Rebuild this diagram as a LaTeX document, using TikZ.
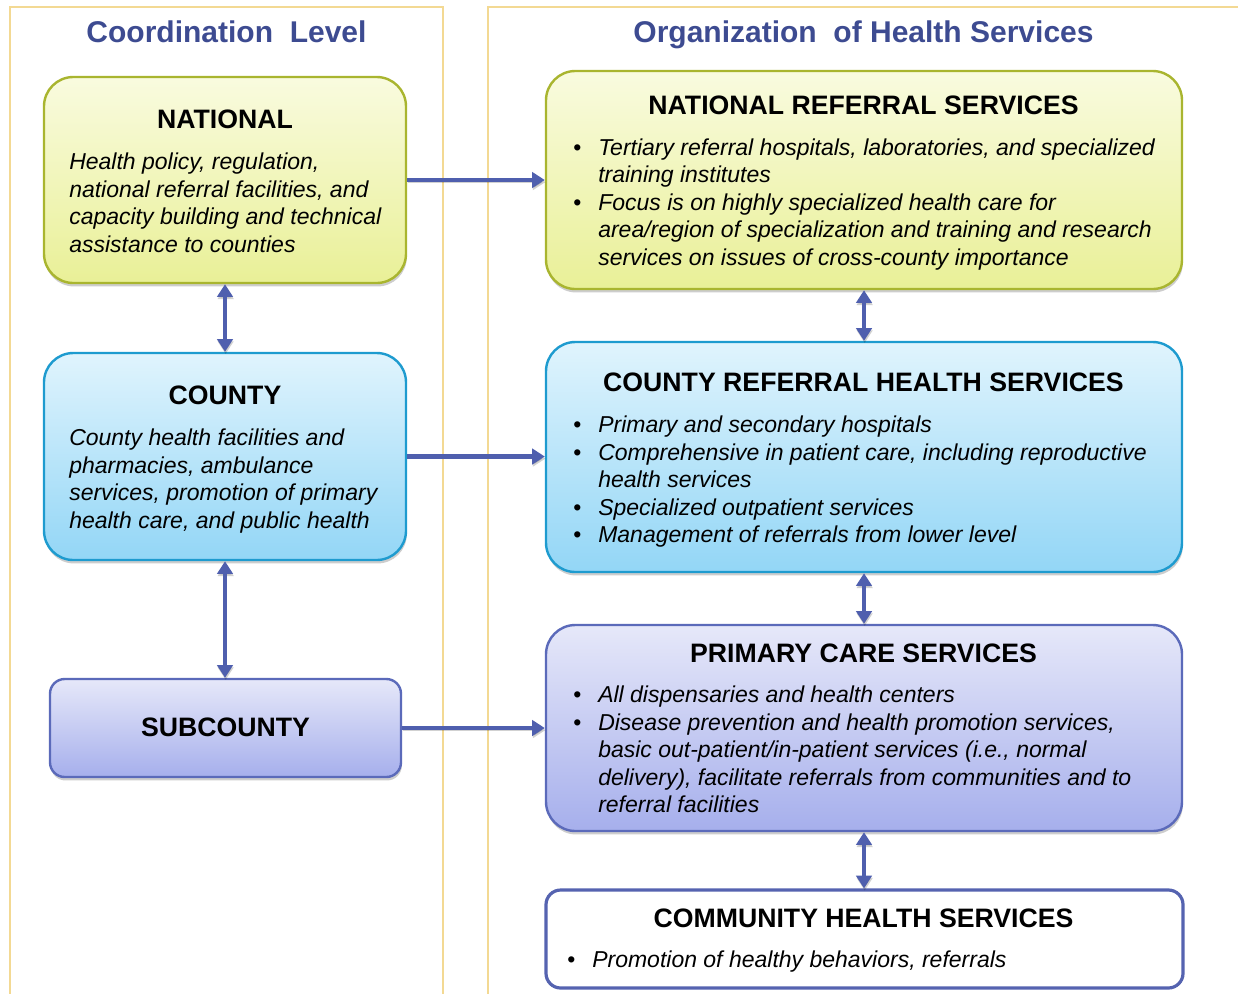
\documentclass[tikz,border=0pt]{standalone}
\usepackage{fontspec}
\setmainfont{Liberation Sans}
\usetikzlibrary{arrows.meta,shadows}

\definecolor{headblue}{HTML}{3D4B91}
\definecolor{panelline}{HTML}{F3D993}
\definecolor{arrowblue}{HTML}{4F5FAE}
\definecolor{ylwtop}{HTML}{F9FBDF}
\definecolor{ylwbot}{HTML}{E9F097}
\definecolor{ylwline}{HTML}{A9B52F}
\definecolor{blutop}{HTML}{E0F4FD}
\definecolor{blubot}{HTML}{93D6F6}
\definecolor{bluline}{HTML}{1E9BCF}
\definecolor{purtop}{HTML}{E6E8F9}
\definecolor{purbot}{HTML}{A6AFEC}
\definecolor{purline}{HTML}{5B6ABA}
\definecolor{comline}{HTML}{5563B0}

\newcommand\bodyfont{\fontsize{17.25pt}{20.625pt}\selectfont\itshape}
\newcommand\titlefont{\fontsize{20pt}{24pt}\selectfont\bfseries}
\newcommand\headfont{\fontsize{22.5pt}{27pt}\selectfont\bfseries}
\newcommand\bul{\makebox[18.75pt][l]{\upshape\textbullet}}
\newcommand\ind{\hspace*{18.75pt}}

\tikzset{
  boxbase/.style={rectangle, line width=1.8pt, inner sep=0pt,
    drop shadow={shadow xshift=0.6pt, shadow yshift=-2.6pt, opacity=0.28, fill=black!70}},
  ylwbox/.style={boxbase, rounded corners=22pt, draw=ylwline, top color=ylwtop, bottom color=ylwbot},
  blubox/.style={boxbase, rounded corners=22pt, draw=bluline, top color=blutop, bottom color=blubot},
  purbox/.style={boxbase, rounded corners=22pt, draw=purline, top color=purtop, bottom color=purbot},
  subbox/.style={boxbase, rounded corners=11pt, draw=purline, top color=purtop, bottom color=purbot},
  combox/.style={rectangle, rounded corners=11pt, draw=comline, line width=2.4pt, fill=white, inner sep=0pt},
  boxtitle/.style={font=\titlefont, anchor=base, inner sep=0pt},
  bodytxt/.style={font=\bodyfont, align=left, anchor=north west, inner sep=0pt},
  colhead/.style={font=\headfont, text=headblue, anchor=base, inner sep=0pt},
  panel/.style={draw=panelline, line width=0.9pt},
  arrowshade/.style={preaction={draw=black, opacity=0.18, transform canvas={xshift=0.5pt, yshift=-1.6pt}}},
  link/.style={arrowshade, draw=arrowblue, line width=3.6pt, -{Triangle[length=9.5pt,width=11.5pt]}},
  twoway/.style={arrowshade, draw=arrowblue, line width=3.6pt, {Triangle[length=9.5pt,width=11.5pt]}-{Triangle[length=9.5pt,width=11.5pt]}}
}

\begin{document}
\begin{tikzpicture}[x=0.75pt, y=-0.75pt]
\useasboundingbox (0,0) rectangle (1238,993);

% column frames
\draw[panel] (10,1000) -- (10,7) -- (443,7) -- (443,1000);
\draw[panel] (488,1000) -- (488,7) -- (1245,7);

% column headings
\node[colhead] (hcoord) at (226.5,42.7) {Coordination\ \ Level};
\node[colhead] (horg) at (863.5,42.7) {Organization\ \ of Health Services};

% coordination level boxes
\node[ylwbox, minimum width=362*0.75pt, minimum height=206*0.75pt] (nat) at (225,180) {};
\node[blubox, minimum width=362*0.75pt, minimum height=207*0.75pt] (cty) at (225,456.5) {};
\node[subbox, minimum width=351*0.75pt, minimum height=98*0.75pt] (sub) at (225.5,728) {};

% health service boxes
\node[ylwbox, minimum width=636*0.75pt, minimum height=218*0.75pt] (natref) at (864,180) {};
\node[blubox, minimum width=636*0.75pt, minimum height=230*0.75pt] (ctyref) at (864,457) {};
\node[purbox, minimum width=636*0.75pt, minimum height=206*0.75pt] (prim) at (864,728) {};
\node[combox, minimum width=637*0.75pt, minimum height=98*0.75pt] (comm) at (864.5,939) {};

% box titles
\node[boxtitle] (tnat) at (225,128.5) {NATIONAL};
\node[boxtitle] (tcty) at (225,404.5) {COUNTY};
\node[boxtitle] (tsub) at (225.5,736.7) {SUBCOUNTY};
\node[boxtitle] (tnatref) at (863.5,114.5) {NATIONAL REFERRAL SERVICES};
\node[boxtitle] (tctyref) at (863.5,391.5) {COUNTY REFERRAL HEALTH SERVICES};
\node[boxtitle] (tprim) at (863.5,662) {PRIMARY CARE SERVICES};
\node[boxtitle] (tcomm) at (863.5,927.7) {COMMUNITY HEALTH SERVICES};

% box texts
\node[bodytxt] (bnat) at (69,150.05) {\strut Health policy, regulation,\\
  national referral facilities, and\\
  capacity building and technical\\
  assistance to counties};
\node[bodytxt] (bcty) at (69,426.45) {\strut County health facilities and\\
  pharmacies, ambulance\\
  services, promotion of primary\\
  health care, and public health};
\node[bodytxt] (bnatref) at (573,135.75) {\strut\bul Tertiary referral hospitals, laboratories, and specialized\\
  \ind training institutes\\
  \bul Focus is on highly specialized health care for\\
  \ind area/region of specialization and training and research\\
  \ind services on issues of cross-county importance};
\node[bodytxt] (bctyref) at (573,413.25) {\strut\bul Primary and secondary hospitals\\
  \bul Comprehensive in patient care, including reproductive\\
  \ind health services\\
  \bul Specialized outpatient services\\
  \bul Management of referrals from lower level};
\node[bodytxt] (bprim) at (573,683.45) {\strut\bul All dispensaries and health centers\\
  \bul Disease prevention and health promotion services,\\
  \ind basic out-patient/in-patient services (i.e., normal\\
  \ind delivery), facilitate referrals from communities and to\\
  \ind referral facilities};
\node[bodytxt] (bcomm) at (567,948.45) {\strut\bul Promotion of healthy behaviors, referrals};

% connectors
\draw[link] (nat.east) -- (natref.west);
\draw[link] (cty.east) -- (cty.east -| ctyref.west);
\draw[link] (sub.east) -- (prim.west);
\draw[twoway] (nat.south) -- (cty.north);
\draw[twoway] (cty.south) -- (cty.south |- sub.north);
\draw[twoway] (natref.south) -- (ctyref.north);
\draw[twoway] (ctyref.south) -- (prim.north);
\draw[twoway] (prim.south) -- (prim.south |- comm.north);
\end{tikzpicture}
\end{document}
